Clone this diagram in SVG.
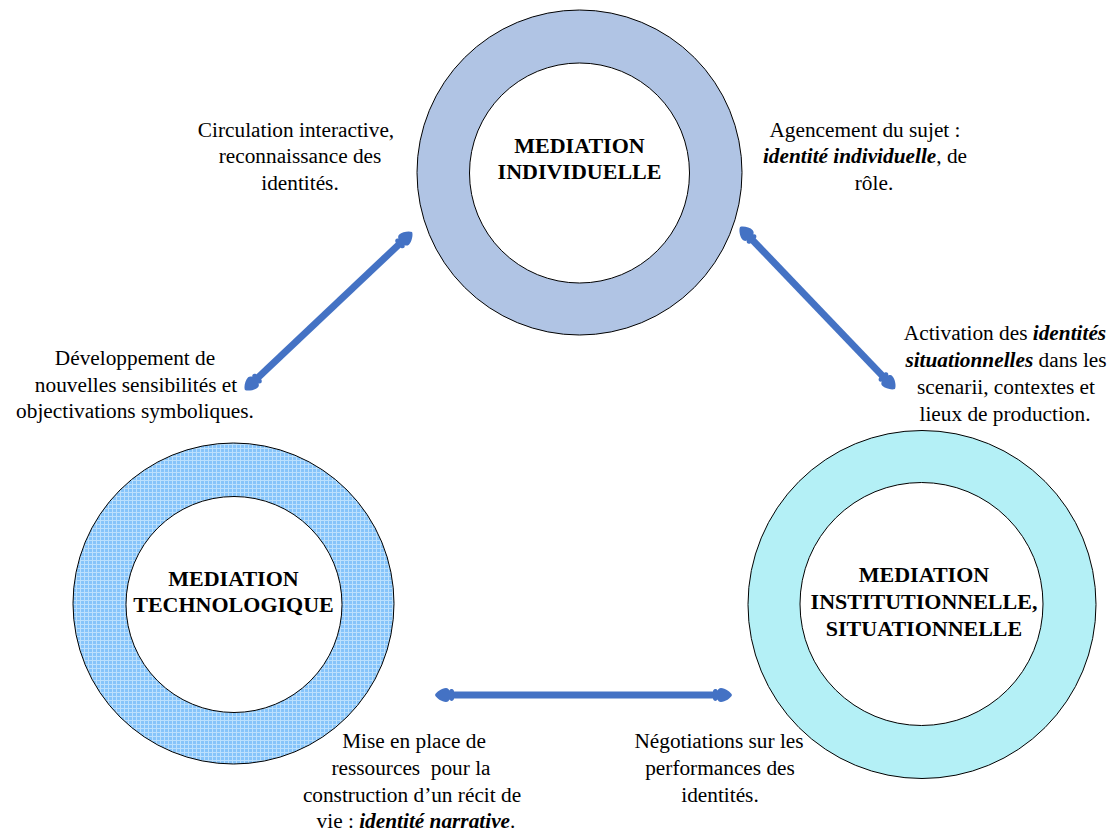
<svg xmlns="http://www.w3.org/2000/svg" width="1117" height="834" viewBox="0 0 1117 834">
<style>
.ring{stroke:#000;stroke-width:1}
.hole{fill:#fff;stroke:#000;stroke-width:1}
.node{font-weight:bold;font-size:22px;fill:#000;text-anchor:middle}
.lbl{font-size:21.3px;fill:#000;text-anchor:middle}
.em{font-weight:bold;font-style:italic}
.conn{stroke:#4472C4;stroke-width:7;fill:none;marker-start:url(#head);marker-end:url(#head)}
</style>
<defs>
<pattern id="grid" width="4" height="4" patternUnits="userSpaceOnUse">
<rect width="4" height="4" fill="#86C4FA"/>
<rect width="4" height="1" fill="#BCE0FD"/>
<rect width="1" height="4" fill="#BCE0FD"/>
</pattern>
<marker id="head" markerUnits="userSpaceOnUse" viewBox="-20 -8 22 16" refX="-16" refY="0" markerWidth="22" markerHeight="16" orient="auto-start-reverse">
<path fill="#4472C4" d="M1 0 C0 -3 -6 -7 -10 -7 C-12 -7 -13 -5.5 -13.5 -4.5 C-14.5 -6.5 -17 -6.5 -18 -4 L-18 4 C-17 6.5 -14.5 6.5 -13.5 4.5 C-13 5.5 -12 7 -10 7 C-6 7 0 3 1 0 Z"/>
</marker>
</defs>
<rect width="1117" height="834" fill="#fff"/>

<g font-family="Liberation Serif, Times New Roman, serif">
<g id="node-individuelle">
<circle class="ring" cx="579.5" cy="172.5" r="162.5" fill="#B0C4E4"/>
<circle class="hole" cx="579.5" cy="173" r="110"/>
<text class="node" x="579.5" y="153">MEDIATION</text>
<text class="node" x="579.5" y="179">INDIVIDUELLE</text>
</g>

<g id="node-technologique">
<circle class="ring" cx="233.5" cy="603.5" r="160.5" fill="url(#grid)"/>
<circle class="hole" cx="234" cy="604.5" r="108"/>
<text class="node" x="233.5" y="586">MEDIATION</text>
<text class="node" x="233.5" y="612">TECHNOLOGIQUE</text>
</g>

<g id="node-institutionnelle">
<circle class="ring" cx="922" cy="604.5" r="174" fill="#B4F0F6"/>
<circle class="hole" cx="921.5" cy="604" r="121.5"/>
<text class="node" x="924" y="582">MEDIATION</text>
<text class="node" x="924" y="609">INSTITUTIONNELLE,</text>
<text class="node" x="924" y="636">SITUATIONNELLE</text>
</g>

<g id="connectors">
<line class="conn" x1="257.3" y1="378.3" x2="399.7" y2="243.7"/>
<line class="conn" x1="751.8" y1="239.3" x2="883.2" y2="376.7"/>
<line class="conn" x1="452" y1="695" x2="715" y2="695"/>
</g>

<g id="labels">
<text class="lbl" x="296" y="137">Circulation interactive,</text>
<text class="lbl" x="300" y="163">reconnaissance des</text>
<text class="lbl" x="300" y="190">identités.</text>

<text class="lbl" x="865" y="137">Agencement du sujet :</text>
<text class="lbl" x="865" y="163"><tspan class="em">identité individuelle</tspan>, de</text>
<text class="lbl" x="874" y="190">rôle.</text>

<text class="lbl" x="135" y="365">Développement de</text>
<text class="lbl" x="136" y="392">nouvelles sensibilités et</text>
<text class="lbl" x="135" y="418">objectivations symboliques.</text>

<text class="lbl" x="1005" y="340">Activation des <tspan class="em">identités</tspan></text>
<text class="lbl" x="1006" y="367"><tspan class="em">situationnelles</tspan> dans les</text>
<text class="lbl" x="1006" y="394">scenarii, contextes et</text>
<text class="lbl" x="1005" y="421">lieux de production.</text>

<text class="lbl" x="414" y="748">Mise en place de</text>
<text class="lbl" x="411" y="775">ressources&#160; pour la</text>
<text class="lbl" x="412" y="802">construction d’un récit de</text>
<text class="lbl" x="416" y="828">vie : <tspan class="em">identité narrative</tspan>.</text>

<text class="lbl" x="719" y="748">Négotiations sur les</text>
<text class="lbl" x="720" y="775">performances des</text>
<text class="lbl" x="720" y="802">identités.</text>
</g>
</g>
</svg>
